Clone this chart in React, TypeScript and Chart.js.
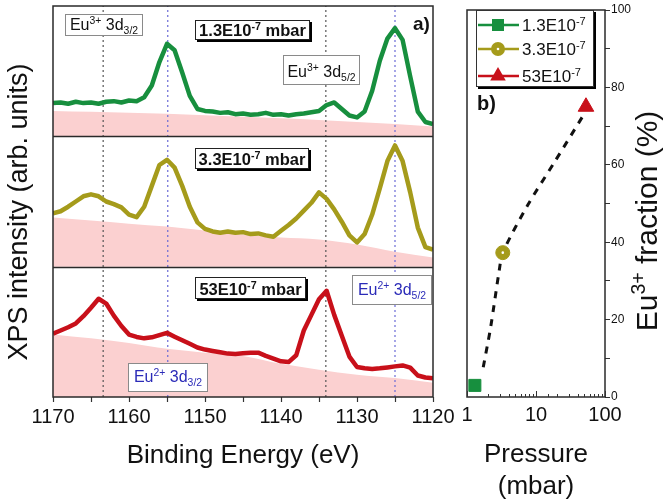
import React, { useEffect, useRef } from 'react';
import { Chart, registerables } from 'chart.js';

Chart.register(...registerables);

// ---------------- DATA ----------------
const energies = [1170, 1169, 1168, 1167, 1166, 1165, 1164, 1163, 1162, 1161, 1160, 1159, 1158, 1157, 1156, 1155, 1154, 1153, 1152, 1151, 1150, 1149, 1148, 1147, 1146, 1145, 1144, 1143, 1142, 1141, 1140, 1139, 1138, 1137, 1136, 1135, 1134, 1133, 1132, 1131, 1130, 1129, 1128, 1127, 1126, 1125, 1124, 1123, 1122, 1121, 1120];

const spectrum13 = [25.5, 26, 25, 26.5, 25.5, 26, 25, 26.5, 27, 26, 27.5,
  27, 30, 39, 57, 71, 66, 49, 31, 21, 19.5,
  19, 18, 18.5, 17, 17.5, 16.5, 17, 18, 16.5, 17,
  16, 17, 17.5, 18.5, 19.5, 24, 26, 21, 16, 14.5,
  19, 35, 58, 75, 83, 74, 46, 19, 11, 9.5];

const spectrum33 = [41, 42.5, 46, 50, 54, 55.5, 54, 50, 48, 45.5, 40,
  38, 46, 62, 78, 82, 76, 62, 46, 34, 29,
  27, 26, 27, 26, 26.5, 25, 25.5, 24, 23, 27.5,
  32, 37, 43, 49, 57, 52, 44, 34.5, 24, 18.6,
  25, 40, 60, 81, 93, 81, 57, 30, 15, 13];

const spectrum53 = [48.5, 51, 53.5, 56.4, 62, 68.5, 75.4, 71.7, 62.4, 54.5, 47.9,
  46.1, 45, 45.8, 47.5, 49.2, 46.3, 43.5, 40.8, 38, 36.4,
  35.3, 34.3, 33.3, 33, 33.5, 34, 34, 31.6, 29.5, 27.4,
  26.8, 32, 51, 63, 75, 81.5, 63, 47, 31, 23,
  22, 21.5, 22, 22.7, 23.5, 24.2, 22.5, 16.5, 15, 14.4];

const bgEnergies = [1170, 1165, 1160, 1155, 1150, 1145, 1140, 1135, 1130, 1125, 1120];
const background13 = [19.5, 18.8, 18, 17.3, 16.2, 15, 13.8, 12.5, 11, 9.5, 7.5];
const background33 = [37.7, 35.4, 33, 30.8, 27.7, 24.6, 22.3, 20.8, 17, 11.5, 7];
const background53 = [48, 45, 41.5, 37, 34, 31.5, 25.5, 21, 17, 14.5, 11];

const eu3Lines = [1163.4, 1134.1];
const eu2Lines = [1154.9, 1125.0];

const xTickStep = 5;

const pressureLabels = ['1.3E10', '3.3E10', '53E10'];
const pressures = [1.3, 3.3, 53];
const eu3Fraction = [3, 37.3, 75];
const fitPressure = [1.72, 2.2, 2.95, 3.3, 7.6, 18.4, 49];
const fitFraction = [7.7, 18, 33, 37.3, 49.6, 60.6, 72.9];
const logMajor = [1, 10, 100];

// ---------------- STYLE ----------------
const FONT = '"Liberation Sans", Arial, Helvetica, sans-serif';
const GREEN = '#178f3e';
const OLIVE = '#a59b1b';
const RED = '#c8101a';
const PINK = '#fbd0d0';
const BLUE = '#2b2bb8';
const INK = '#111111';
const FRAME = '#2a2a2a';

type Seg = { t: string; s?: 'sup' | 'sub' };

function drawRich(ctx: CanvasRenderingContext2D, segs: Seg[], x: number, y: number, size: number,
  opts: { weight?: string; color?: string; align?: 'left' | 'center' } = {}) {
  const weight = opts.weight || 'normal';
  const small = size * 0.65;
  const fontOf = (s?: string) => `${weight} ${s ? small : size}px ${FONT}`;
  let w = 0;
  for (const g of segs) { ctx.font = fontOf(g.s); w += ctx.measureText(g.t).width; }
  let cx = opts.align === 'center' ? x - w / 2 : x;
  ctx.fillStyle = opts.color || INK;
  ctx.textAlign = 'left';
  ctx.textBaseline = 'alphabetic';
  for (const g of segs) {
    ctx.font = fontOf(g.s);
    const dy = g.s === 'sup' ? -size * 0.38 : g.s === 'sub' ? size * 0.28 : 0;
    ctx.fillText(g.t, cx, y + dy);
    cx += ctx.measureText(g.t).width;
  }
  return w;
}

const eu3_32: Seg[] = [{ t: 'Eu' }, { t: '3+', s: 'sup' }, { t: ' 3d' }, { t: '3/2', s: 'sub' }];
const eu3_52: Seg[] = [{ t: 'Eu' }, { t: '3+', s: 'sup' }, { t: ' 3d' }, { t: '5/2', s: 'sub' }];
const eu2_52: Seg[] = [{ t: 'Eu' }, { t: '2+', s: 'sup' }, { t: ' 3d' }, { t: '5/2', s: 'sub' }];
const eu2_32: Seg[] = [{ t: 'Eu' }, { t: '2+', s: 'sup' }, { t: ' 3d' }, { t: '3/2', s: 'sub' }];
const pSeg = (p: string, unit: boolean): Seg[] => [{ t: p }, { t: '-7', s: 'sup' }, ...(unit ? [{ t: ' mbar' }] : [])];

type Note = { box: number[]; segs: Seg[]; base: number; color: string; weight: string; shadow: boolean; size: number };
const leftNotes: Note[] = [
  { box: [65, 14, 78, 22], segs: eu3_32, base: 30, color: INK, weight: 'normal', shadow: false, size: 16 },
  { box: [283, 55, 77, 30], segs: eu3_52, base: 77, color: INK, weight: 'normal', shadow: false, size: 16 },
  { box: [195, 20, 115, 20], segs: pSeg(pressureLabels[0], true), base: 36, color: INK, weight: 'bold', shadow: true, size: 16.5 },
  { box: [195, 148, 114, 21], segs: pSeg(pressureLabels[1], true), base: 165, color: INK, weight: 'bold', shadow: true, size: 16.5 },
  { box: [195, 277, 111, 22], segs: pSeg(pressureLabels[2], true), base: 295, color: INK, weight: 'bold', shadow: true, size: 16.5 },
  { box: [352, 275, 80, 30], segs: eu2_52, base: 295, color: BLUE, weight: 'normal', shadow: false, size: 16 },
  { box: [128, 363, 80, 29], segs: eu2_32, base: 382, color: BLUE, weight: 'normal', shadow: false, size: 16 },
];

const leftDecor = {
  id: 'leftDecor',
  afterDatasetsDraw(chart: any) {
    const { ctx, chartArea: a, scales } = chart;
    const y = scales.y;
    ctx.save();
    ctx.strokeStyle = FRAME;
    ctx.lineWidth = 1.5;
    ctx.strokeRect(a.left, a.top, a.right - a.left, a.bottom - a.top);
    for (const v of [100, 200]) {
      const py = Math.round(y.getPixelForValue(v)) + 0.5;
      ctx.beginPath(); ctx.moveTo(a.left, py); ctx.lineTo(a.right, py); ctx.stroke();
    }
    for (const n of leftNotes) {
      const [bx, by, bw, bh] = n.box;
      if (n.shadow) { ctx.fillStyle = '#000'; ctx.fillRect(bx + 2, by + 2, bw, bh); }
      ctx.fillStyle = '#fff';
      ctx.fillRect(bx, by, bw, bh);
      ctx.lineWidth = 1;
      ctx.strokeStyle = n.shadow ? '#222' : '#8a8a8a';
      ctx.strokeRect(bx + 0.5, by + 0.5, bw - 1, bh - 1);
      drawRich(ctx, n.segs, bx + bw / 2, n.base, n.size, { weight: n.weight, color: n.color, align: 'center' });
    }
    drawRich(ctx, [{ t: 'a)' }], 413, 30, 19, { weight: 'bold' });
    ctx.restore();
  },
  afterDraw(chart: any) {
    const { ctx } = chart;
    ctx.save();
    ctx.translate(17, 212);
    ctx.rotate(-Math.PI / 2);
    drawRich(ctx, [{ t: 'XPS intensity (arb. units)' }], 0, 27 * 0.36, 27, { align: 'center' });
    ctx.restore();
  },
};

function leftConfig(): any {
  const panels = [
    { vals: spectrum13, bg: background13, color: GREEN, off: 200 },
    { vals: spectrum33, bg: background33, color: OLIVE, off: 100 },
    { vals: spectrum53, bg: background53, color: RED, off: 0 },
  ];
  const datasets: any[] = [];
  panels.forEach((p) => {
    datasets.push({
      data: energies.map((e, i) => ({ x: e, y: p.vals[i] + p.off })),
      borderColor: p.color, borderWidth: 4.5, pointRadius: 0, fill: false, tension: 0, order: 0,
      borderJoinStyle: 'round',
    });
  });
  eu3Lines.forEach((v) => datasets.push({
    data: [{ x: v, y: 0 }, { x: v, y: 300 }], borderColor: '#555', borderWidth: 1.2, borderDash: [2, 3],
    pointRadius: 0, fill: false, order: 1,
  }));
  eu2Lines.forEach((v) => datasets.push({
    data: [{ x: v, y: 0 }, { x: v, y: 300 }], borderColor: '#6b6bd6', borderWidth: 1.2, borderDash: [2, 3],
    pointRadius: 0, fill: false, order: 1,
  }));
  panels.forEach((p) => {
    datasets.push({
      data: bgEnergies.map((e, i) => ({ x: e, y: p.bg[i] + p.off })),
      borderColor: PINK, borderWidth: 0, backgroundColor: PINK, pointRadius: 0,
      fill: { value: p.off }, cubicInterpolationMode: 'monotone', order: 2,
    });
  });
  return {
    type: 'line',
    data: { datasets },
    options: {
      responsive: false, animation: false, devicePixelRatio: 1,
      layout: { padding: { left: 53, top: 6, right: 27, bottom: 0 } },
      plugins: { legend: { display: false }, tooltip: { enabled: false } },
      scales: {
        x: {
          type: 'linear', min: 1120, max: 1170, reverse: true,
          ticks: {
            stepSize: xTickStep, autoSkip: false, color: INK, padding: 3, maxRotation: 0, minRotation: 0,
            font: { size: 20, family: FONT },
            callback: (v: number) => (v % 10 === 0 ? String(v) : ''),
          },
          grid: { drawOnChartArea: false, tickLength: 5, tickColor: '#333', tickWidth: 1.2 },
          border: { display: false },
          title: {
            display: true, text: 'Binding Energy (eV)', color: INK,
            font: { size: 26, family: FONT }, padding: { top: 0, bottom: 32 },
          },
          afterFit: (s: any) => { s.height = 106; s.paddingLeft = 0; s.paddingRight = 0; },
        },
        y: { display: false, min: 0, max: 300 },
      },
    },
    plugins: [leftDecor],
  };
}

// ---------------- RIGHT PANEL ----------------
const pointColors = [GREEN, OLIVE, RED];
const pointStyles = ['rect', 'circle', 'triangle'];
const pointSizes = [8.5, 7, 9];

function drawMarker(ctx: CanvasRenderingContext2D, style: string, x: number, y: number, r: number, color: string) {
  ctx.fillStyle = color;
  ctx.beginPath();
  if (style === 'rect') {
    const h = r * Math.SQRT1_2;
    ctx.rect(x - h, y - h, 2 * h, 2 * h);
  } else if (style === 'circle') {
    ctx.arc(x, y, r, 0, Math.PI * 2);
  } else {
    ctx.moveTo(x, y - r);
    ctx.lineTo(x + r * 0.866, y + r * 0.5);
    ctx.lineTo(x - r * 0.866, y + r * 0.5);
    ctx.closePath();
  }
  ctx.fill();
  if (style === 'circle') {
    ctx.fillStyle = '#fff';
    ctx.beginPath(); ctx.arc(x, y, 1.3, 0, Math.PI * 2); ctx.fill();
  }
}

const rightDecor = {
  id: 'rightDecor',
  afterDatasetsDraw(chart: any) {
    const { ctx, chartArea: a, scales } = chart;
    ctx.save();
    const meta = chart.getDatasetMeta(2);
    if (meta && meta.data[0]) {
      const el = meta.data[0];
      ctx.fillStyle = '#fff';
      ctx.beginPath(); ctx.arc(el.x, el.y, 1.3, 0, Math.PI * 2); ctx.fill();
    }
    ctx.strokeStyle = FRAME;
    ctx.lineWidth = 1.5;
    ctx.strokeRect(a.left, a.top, a.right - a.left, a.bottom - a.top);
    const xs = scales.x;
    ctx.lineWidth = 1;
    ctx.strokeStyle = '#333';
    for (const t of xs.ticks) {
      const px = Math.round(xs.getPixelForValue(t.value)) + 0.5;
      const len = logMajor.includes(t.value) ? 6 : 3;
      ctx.beginPath(); ctx.moveTo(px, a.bottom); ctx.lineTo(px, a.bottom - len); ctx.stroke();
    }
    const lx = 36, ly = 10, lw = 118, lh = 77;
    ctx.fillStyle = '#000';
    ctx.fillRect(lx + 2, ly + 2, lw, lh);
    ctx.fillStyle = '#fff';
    ctx.fillRect(lx, ly, lw, lh);
    ctx.strokeStyle = '#333';
    ctx.strokeRect(lx + 0.5, ly + 0.5, lw - 1, lh - 1);
    const rows = [25, 49, 76];
    pressureLabels.forEach((lab, i) => {
      const ry = rows[i];
      ctx.strokeStyle = pointColors[i];
      ctx.lineWidth = 2.5;
      ctx.beginPath(); ctx.moveTo(38, ry); ctx.lineTo(79, ry); ctx.stroke();
      drawMarker(ctx, pointStyles[i], 58, ry, pointSizes[i], pointColors[i]);
      drawRich(ctx, pSeg(lab, false), 82, ry + 6, 17, {});
    });
    drawRich(ctx, [{ t: 'b)' }], 37, 110, 20, { weight: 'bold' });
    ctx.restore();
  },
  afterDraw(chart: any) {
    const { ctx } = chart;
    ctx.save();
    ctx.translate(206, 221);
    ctx.rotate(-Math.PI / 2);
    drawRich(ctx, [{ t: 'Eu' }, { t: '3+', s: 'sup' }, { t: ' fraction (%)' }], 0, 30 * 0.36, 30, { align: 'center' });
    ctx.restore();
  },
};

function rightConfig(): any {
  const datasets: any[] = [
    {
      data: fitPressure.map((p, i) => ({ x: p, y: fitFraction[i] })),
      borderColor: '#111', borderWidth: 3, borderDash: [7, 7], pointRadius: 0, fill: false,
      tension: 0.3, order: 1,
    },
  ];
  pressures.forEach((p, i) => {
    datasets.push({
      data: [{ x: p, y: eu3Fraction[i] }],
      showLine: false, pointStyle: pointStyles[i], pointRadius: pointSizes[i],
      backgroundColor: pointColors[i], borderColor: pointColors[i], pointBorderWidth: 1, order: 0,
    });
  });
  return {
    type: 'line',
    data: { datasets },
    options: {
      responsive: false, animation: false, devicePixelRatio: 1,
      layout: { padding: { left: 27, top: 6, right: 0, bottom: 0 } },
      plugins: { legend: { display: false }, tooltip: { enabled: false } },
      scales: {
        x: {
          type: 'logarithmic', min: 1, max: 100,
          ticks: {
            autoSkip: false, color: INK, padding: 6, maxRotation: 0, minRotation: 0,
            font: { size: 20, family: FONT },
            callback: (v: number) => (logMajor.includes(v) ? String(v) : ''),
          },
          grid: { drawOnChartArea: false, drawTicks: false },
          border: { display: false },
          title: {
            display: true, text: ['Pressure', '(mbar)'], color: INK,
            font: { size: 26, family: FONT }, padding: { top: 0, bottom: 1 },
          },
          afterFit: (s: any) => { s.height = 106; s.paddingLeft = 0; s.paddingRight = 0; },
        },
        y: {
          position: 'right', min: 0, max: 100,
          ticks: {
            stepSize: 10, color: INK, padding: 1, font: { size: 12, family: FONT },
            callback: (v: number) => (v % 20 === 0 ? String(v) : ''),
          },
          grid: { drawOnChartArea: false, tickLength: 5, tickColor: '#333', tickWidth: 1 },
          border: { display: false },
          afterFit: (s: any) => { s.width = 61; },
        },
      },
    },
    plugins: [rightDecor],
  };
}

export default function App() {
  const leftRef = useRef<HTMLCanvasElement>(null);
  const rightRef = useRef<HTMLCanvasElement>(null);
  useEffect(() => {
    const left = new Chart(leftRef.current as HTMLCanvasElement, leftConfig());
    const right = new Chart(rightRef.current as HTMLCanvasElement, rightConfig());
    return () => { left.destroy(); right.destroy(); };
  }, []);
  return (
    <div style={{ position: 'fixed', left: 0, top: 0, width: 666, height: 503, background: '#fff', overflow: 'hidden' }}>
      <canvas ref={leftRef} width={460} height={503} style={{ position: 'absolute', left: 0, top: 0, width: 460, height: 503 }} />
      <canvas ref={rightRef} width={226} height={503} style={{ position: 'absolute', left: 440, top: 0, width: 226, height: 503 }} />
    </div>
  );
}
